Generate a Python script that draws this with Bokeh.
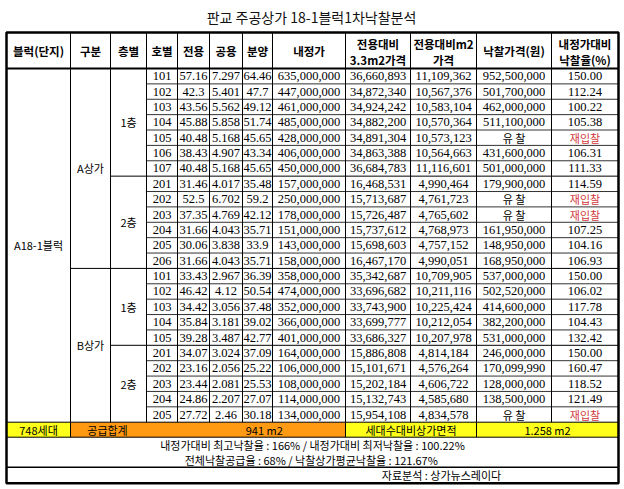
from bokeh.plotting import figure
from bokeh.models import Range1d
from bokeh.embed import file_html
from bokeh.resources import INLINE
from bokeh.core.properties import value

# ---------------- data ----------------
title = "판교 주공상가 18-1블럭1차낙찰분석"
headers = ["블럭(단지)", "구분", "층별", "호별", "전용", "공용", "분양", "내정가",
           "전용대비\n3.3m2가격", "전용대비m2\n가격", "낙찰가격(원)", "내정가대비\n낙찰율(%)"]
block_name = "A18-1블럭"
sections = ["A상가", "B상가"]
section_sizes = [13, 10]
floors = ["1층", "2층", "1층", "2층"]
floor_sizes = [7, 6, 5, 5]
units = ["101", "102", "103", "104", "105", "106", "107",
         "201", "202", "203", "204", "205", "206",
         "101", "102", "103", "104", "105",
         "201", "202", "203", "204", "205"]
exclusive = [57.16, 42.3, 43.56, 45.88, 40.48, 38.43, 40.48,
             31.46, 52.5, 37.35, 31.66, 30.06, 31.66,
             33.43, 46.42, 34.42, 35.84, 39.28,
             34.07, 23.16, 23.44, 24.86, 27.72]
common = [7.297, 5.401, 5.562, 5.858, 5.168, 4.907, 5.168,
          4.017, 6.702, 4.769, 4.043, 3.838, 4.043,
          2.967, 4.12, 3.056, 3.181, 3.487,
          3.024, 2.056, 2.081, 2.207, 2.46]
sale_area = [64.46, 47.7, 49.12, 51.74, 45.65, 43.34, 45.65,
             35.48, 59.2, 42.12, 35.71, 33.9, 35.71,
             36.39, 50.54, 37.48, 39.02, 42.77,
             37.09, 25.22, 25.53, 27.07, 30.18]
reserve_price = [635000000, 447000000, 461000000, 485000000, 428000000, 406000000, 450000000,
                 157000000, 250000000, 178000000, 151000000, 143000000, 158000000,
                 358000000, 474000000, 352000000, 366000000, 401000000,
                 164000000, 106000000, 108000000, 114000000, 134000000]
price_per_33 = [36660893, 34872340, 34924242, 34882200, 34891304, 34863388, 36684783,
                16468531, 15713687, 15726487, 15737612, 15698603, 16467170,
                35342687, 33696682, 33743900, 33699777, 33686327,
                15886808, 15101671, 15202184, 15132743, 15954108]
price_per_m2 = [11109362, 10567376, 10583104, 10570364, 10573123, 10564663, 11116601,
                4990464, 4761723, 4765602, 4768973, 4757152, 4990051,
                10709905, 10211116, 10225424, 10212054, 10207978,
                4814184, 4576264, 4606722, 4585680, 4834578]
bid_price = [952500000, 501700000, 462000000, 511100000, None, 431600000, 501000000,
             179900000, None, None, 161950000, 148950000, 168950000,
             537000000, 502520000, 414600000, 382200000, 531000000,
             246000000, 170099990, 128000000, 138500000, None]
bid_rate = [150.00, 112.24, 100.22, 105.38, None, 106.31, 111.33,
            114.59, None, None, 107.25, 104.16, 106.93,
            150.00, 106.02, 117.78, 104.43, 132.42,
            150.00, 160.47, 118.52, 121.49, None]
no_bid_label = "유 찰"
rebid_label = "재입찰"
households = "748세대"
supply_label = "공급합계"
supply_total = "941  m2"
ratio_label = "세대수대비상가면적"
ratio_value = "1.258 m2"
summary_lines = ["내정가대비 최고낙찰율 : 166% / 내정가대비 최저낙찰율 : 100.22%",
                 "전체낙찰공급율 : 68%  / 낙찰상가평균낙찰율 : 121.67%"]
source_note = "자료분석 : 상가뉴스레이다"

# ---------------- layout ----------------
col_edges = [6, 70, 110, 146, 177, 209, 242, 272, 345, 410, 476, 551, 618]
title_y = 16
head_top, head_bot = 32, 68
n_rows = len(units)
total_top = 421.7
row_h = (total_top - head_bot) / n_rows
total_bot = 436.7
summary_bot = 466.7
table_bot = 482.7

KR = value("Noto Sans CJK KR")
NUM = value("Liberation Sans Narrow")

p = figure(width=620, height=485, x_range=Range1d(0, 620), y_range=Range1d(485, 0),
           output_backend="svg", toolbar_location=None,
           x_axis_location=None, y_axis_location=None, min_border=0)
p.grid.visible = False
p.outline_line_color = None
p.background_fill_color = "white"
p.border_fill_color = "white"

def cx(i):
    return (col_edges[i] + col_edges[i + 1]) / 2

def ry(i):
    return head_bot + (i + 0.5) * row_h

# fills for total row
p.quad(left=[col_edges[0], col_edges[1], col_edges[8]], right=[col_edges[1], col_edges[8], col_edges[12]],
       top=[total_top] * 3, bottom=[total_bot] * 3,
       fill_color=["#FFFF1A", "#FF9A12", "#FFFF1A"], line_color=None)

# grid lines
xs0, ys0, xs1, ys1, lw, lc = [], [], [], [], [], []
def seg(x0, y0, x1, y1, w=1, c="black"):
    xs0.append(x0); ys0.append(y0); xs1.append(x1); ys1.append(y1); lw.append(w); lc.append(c)

sec_bounds = [sum(section_sizes[:k]) for k in range(1, len(section_sizes))]
floor_bounds = [sum(floor_sizes[:k]) for k in range(1, len(floor_sizes))]
for k in range(1, n_rows):
    y = head_bot + k * row_h
    if k in sec_bounds:
        seg(col_edges[1], y, col_edges[12], y)
    elif k in floor_bounds:
        seg(col_edges[2], y, col_edges[12], y)
    else:
        seg(col_edges[3], y, col_edges[12], y, 1, "#333333")
for i in range(1, 12):
    seg(col_edges[i], head_top, col_edges[i], total_top)
for i in (1, 8, 10):
    seg(col_edges[i], total_top, col_edges[i], total_bot)
seg(col_edges[0], head_bot, col_edges[12], head_bot, 2)
seg(col_edges[0], total_top, col_edges[12], total_top)
seg(col_edges[0], total_bot, col_edges[12], total_bot)
seg(col_edges[0], summary_bot, col_edges[12], summary_bot, 1.5)
p.segment(x0=xs0, y0=ys0, x1=xs1, y1=ys1, line_width=lw, line_color=lc)
p.quad(left=[col_edges[0]], right=[col_edges[12]], top=[head_top], bottom=[table_bot],
       fill_color=None, line_color="black", line_width=2.5)

# title
p.text(x=[311], y=[title_y], text=[title], text_font=KR, text_font_size="14px",
       text_align="center", text_baseline="middle", text_color="#111111")

# headers
hx, hy, ht = [], [], []
for i, h in enumerate(headers):
    parts = h.split("\n")
    if len(parts) == 1:
        hx.append(cx(i)); hy.append((head_top + head_bot) / 2); ht.append(h)
    else:
        hx += [cx(i), cx(i)]; hy += [43, 59]; ht += parts
p.text(x=hx, y=hy, text=ht, text_font=KR, text_font_size="11.5px", text_font_style="bold",
       text_align="center", text_baseline="middle", text_color="black")

# merged label cells
kx, ky, kt = [cx(0)], [(head_bot + total_top) / 2], [block_name]
start = 0
for s, n in zip(sections, section_sizes):
    kx.append(cx(1)); ky.append(head_bot + (start + n / 2) * row_h); kt.append(s)
    start += n
start = 0
for f, n in zip(floors, floor_sizes):
    kx.append(cx(2)); ky.append(head_bot + (start + n / 2) * row_h); kt.append(f)
    start += n
p.text(x=kx, y=ky, text=kt, text_font=KR, text_font_size="11px",
       text_align="center", text_baseline="middle", text_color="black")

# numeric cells
nx, ny, nt = [], [], []
kx2, ky2, kt2, kc2 = [], [], [], []
for r in range(n_rows):
    y = ry(r)
    vals = [units[r], f"{exclusive[r]:g}", f"{common[r]:g}", f"{sale_area[r]:g}",
            f"{reserve_price[r]:,}", f"{price_per_33[r]:,}", f"{price_per_m2[r]:,}"]
    for j, v in enumerate(vals):
        nx.append(cx(3 + j)); ny.append(y); nt.append(v)
    if bid_price[r] is None:
        kx2.append(cx(10)); ky2.append(y); kt2.append(no_bid_label); kc2.append("black")
    else:
        nx.append(cx(10)); ny.append(y); nt.append(f"{bid_price[r]:,}")
    if bid_rate[r] is None:
        kx2.append(cx(11)); ky2.append(y); kt2.append(rebid_label); kc2.append("#D23A3A")
    else:
        nx.append(cx(11)); ny.append(y); nt.append(f"{bid_rate[r]:.2f}")
p.text(x=nx, y=ny, text=nt, text_font=NUM, text_font_size="12.5px",
       text_align="center", text_baseline="middle", text_color="black")
p.text(x=kx2, y=ky2, text=kt2, text_color=kc2, text_font=KR, text_font_size="11px",
       text_align="center", text_baseline="middle")

# total row
ty = (total_top + total_bot) / 2
p.text(x=[cx(0), 107, 265, (col_edges[8] + col_edges[10]) / 2, (col_edges[10] + col_edges[12]) / 2],
       y=[ty] * 5, text=[households, supply_label, supply_total, ratio_label, ratio_value],
       text_font=KR, text_font_size="11px", text_align="center", text_baseline="middle",
       text_color="black")

# summary and source
p.text(x=[312, 312], y=[444.5, 459], text=summary_lines, text_font=KR, text_font_size="11px",
       text_align="center", text_baseline="middle", text_color="black")
p.text(x=[441], y=[(summary_bot + table_bot) / 2], text=[source_note], text_font=KR,
       text_font_size="11px", text_align="center", text_baseline="middle", text_color="black")

open("out.html", "w").write(file_html(p, INLINE))
